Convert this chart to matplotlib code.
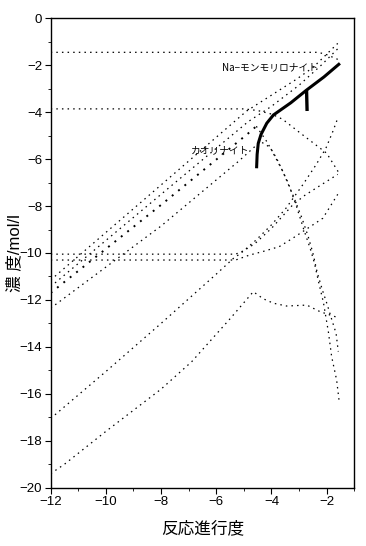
import numpy as np
import matplotlib
matplotlib.use("Agg")
import matplotlib.pyplot as plt
from matplotlib.ticker import MultipleLocator

plt.rcParams['font.family'] = ['Liberation Sans', 'Noto Sans CJK JP']

# --- data (log reaction progress, log concentration) ---
# horizontal lines that later bend
h_top_x = [-12, -2.3, -2.0, -1.6]
h_top_y = [-1.45, -1.45, -1.55, -1.75]

h_mid_x = [-12, -5.0, -4.5, -4.0, -3.6, -3.0, -2.5, -2.0, -1.55]
h_mid_y = [-3.86, -3.86, -3.93, -4.08, -4.3, -4.85, -5.3, -5.75, -6.6]

h_a_x = [-12, -5.3, -5.0, -4.6, -4.0, -3.23, -2.8, -2.39, -1.6]
h_a_y = [-10.05, -10.05, -9.9, -9.6, -8.95, -7.95, -7.55, -7.24, -6.65]

h_b_x = [-12, -5.3, -4.8, -4.32, -3.72, -3.23, -2.87, -2.51, -2.14, -1.6]
h_b_y = [-10.3, -10.3, -10.09, -9.94, -9.73, -9.37, -9.09, -8.81, -8.52, -7.5]

# rising lines from the left
u1_x = [-12, -8, -4.9, -4.3, -3.1, -2.5, -1.6]
u1_y = [-11.15, -7.1, -3.95, -3.5, -2.6, -2.1, -1.07]

u2_x = [-12, -8, -4.84, -4.0, -3.0, -2.2, -1.6]
u2_y = [-11.43, -7.5, -4.4, -3.75, -2.85, -2.0, -1.3]

# u3: heavy-dotted rise, then plain dotted fall
u3_up_x = [-12, -8, -4.84, -4.55]
u3_up_y = [-11.7, -7.95, -4.9, -4.6]
u3_dn_x = [-4.55, -4.2, -3.8, -3.4, -3.09, -2.83, -2.6, -2.45, -2.3, -2.12, -1.94, -1.82, -1.64, -1.55]
u3_dn_y = [-4.6, -5.2, -6.0, -7.0, -8.03, -9.0, -9.8, -10.4, -11.2, -12.1, -13.35, -14.42, -15.41, -16.3]

u4_x = [-12, -8, -5.2, -4.4, -4.05, -3.6, -3.2, -2.9, -2.67, -2.5, -2.35, -2.15, -1.98, -1.8, -1.66, -1.58]
u4_y = [-12.35, -8.85, -6.1, -5.25, -5.5, -6.5, -7.6, -8.5, -9.3, -10.0, -10.8, -11.6, -12.2, -12.9, -13.42, -14.2]

s1_x = [-12, -10, -8, -6, -5.38, -5.1, -4.56, -4.0, -3.48, -2.87, -2.39, -2.03, -1.78, -1.6]
s1_y = [-17.05, -15.05, -13.0, -10.9, -10.23, -10.0, -9.45, -8.8, -8.1, -7.1, -6.25, -5.54, -4.83, -4.26]

s2_x = [-12, -11.5, -10, -8, -6.89, -5.5, -4.66, -4.3, -3.93, -3.45, -2.72, -2.24, -1.6]
s2_y = [-19.4, -19.0, -17.6, -15.8, -14.63, -12.8, -11.65, -11.95, -12.14, -12.26, -12.22, -12.5, -12.75]

# mineral curves (solid)
kao_x = [-4.54, -4.52, -4.48, -4.38, -4.17, -3.93, -3.3, -2.72, -2.1, -1.52]
kao_y = [-6.39, -5.8, -5.33, -4.95, -4.47, -4.12, -3.6, -3.05, -2.5, -1.92]
mont_x = [-2.73, -2.72, -2.71]
mont_y = [-3.05, -3.5, -3.95]

fig = plt.figure(figsize=(3.66, 5.46), dpi=100)
ax = fig.add_axes([0.1385, 0.1068, 0.8295, 0.8597])

dot = (0, (1.2, 3.3))
for xs, ys in [(h_top_x, h_top_y), (h_mid_x, h_mid_y), (h_a_x, h_a_y), (h_b_x, h_b_y),
               (u1_x, u1_y), (u2_x, u2_y), (u3_dn_x, u3_dn_y), (u4_x, u4_y),
               (s1_x, s1_y), (s2_x, s2_y)]:
    ax.plot(xs, ys, color='black', lw=0.9, linestyle=dot)
ax.plot(u3_up_x, u3_up_y, color='black', lw=1.4, linestyle=(0, (1, 3.2)))

ax.plot(kao_x, kao_y, color='black', lw=2.2, solid_capstyle='butt')
ax.plot(mont_x, mont_y, color='black', lw=2.4, solid_capstyle='butt')

ax.text(-2.3, -2.07, 'Na−モンモリロナイト', fontsize=7, ha='right', va='center',
        family=['Noto Sans CJK JP', 'DejaVu Sans'])
ax.text(-4.8, -5.62, 'カオリナイト', fontsize=7, ha='right', va='center',
        family=['Noto Sans CJK JP', 'DejaVu Sans'])

ax.set_xlim(-12, -1)
ax.set_ylim(-20, 0)
ax.xaxis.set_major_locator(MultipleLocator(2))
ax.xaxis.set_minor_locator(MultipleLocator(1))
ax.yaxis.set_major_locator(MultipleLocator(2))
ax.yaxis.set_minor_locator(MultipleLocator(1))
ax.tick_params(which='major', direction='out', length=4.5, width=0.8, labelsize=9.5, pad=1.5)
ax.tick_params(which='minor', direction='out', length=2, width=0.6)
for sp in ax.spines.values():
    sp.set_linewidth(1.0)

ax.set_xlabel('反応進行度', fontsize=12, labelpad=9)
ax.set_ylabel('濃 度/mol/l', fontsize=12)
ax.yaxis.set_label_coords(-0.095, 0.5)

fig.savefig('out.png', dpi=100)
